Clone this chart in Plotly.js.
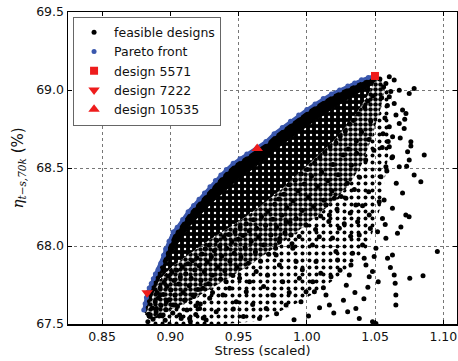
<!DOCTYPE html>
<html><head><meta charset="utf-8">
<script src="https://cdn.plot.ly/plotly-3.0.1.min.js"></script>
<style>html,body{margin:0;padding:0;background:#fff}</style>
</head><body><div id="chart" style="width:458px;height:361px"></div>
<script>
// Pareto front
var paretoX = [0.8805,0.8815,0.8825,0.8830,0.8845,0.8860,0.8875,0.8890,0.8910,0.8930,0.8950,0.8965,0.8990,0.9020,0.9050,0.9090,0.9130,0.9170,0.9210,0.9250,0.9290,0.9330,0.9370,0.9410,0.9460,0.9510,0.9560,0.9636,0.9700,0.9760,0.9820,0.9880,0.9940,1.0000,1.0060,1.0120,1.0180,1.0240,1.0300,1.0350,1.0400,1.0450,1.0490];
var paretoY = [67.59,67.63,67.67,67.70,67.73,67.76,67.79,67.82,67.85,67.89,67.94,67.98,68.03,68.09,68.12,68.17,68.22,68.26,68.30,68.34,68.38,68.42,68.455,68.49,68.53,68.56,68.59,68.63,68.67,68.72,68.76,68.80,68.84,68.875,68.91,68.945,68.975,69.00,69.025,69.045,69.065,69.08,69.09];
// lower edge of the solid black band of feasible designs just under the front (right to left)
var solidLowX = [1.0501,1.0450,1.0350,1.0200,1.0000,0.9800,0.9650,0.9470,0.9290,0.9140,0.9030,0.8950,0.8890,0.8840,0.8815];
var solidLowY = [69.060,69.020,68.970,68.890,68.770,68.640,68.530,68.410,68.270,68.130,67.990,67.860,67.740,67.630,67.570];
// lower edge of the very crowded part (left to right)
var denseLowX = [0.8820,0.8864,0.8922,0.9010,0.9142,0.9288,0.9471,0.9653,0.9836,1.0019,1.0202,1.0348,1.0443,1.0501];
var denseLowY = [67.585,67.690,67.785,67.865,67.950,68.040,68.140,68.250,68.380,68.530,68.680,68.830,68.960,69.060];
// lower edge of the crowded part (right to left)
var crowdLowX = [1.0545,1.0570,1.0540,1.0470,1.0400,1.0300,1.0150,1.0000,0.9850,0.9700,0.9550,0.9400,0.9250,0.9150,0.9050,0.8950,0.8860,0.8815];
var crowdLowY = [69.075,69.00,68.88,68.68,68.52,68.38,68.25,68.14,68.04,67.95,67.86,67.78,67.70,67.65,67.61,67.57,67.54,67.56];
// lower edge of the thinner scatter around it (left to right)
var thinLowX = [0.8815,0.8860,0.9150,0.9400,0.9650,0.9900,1.0100,1.0300,1.0450,1.0540,1.0600,1.0620,1.0545];
var thinLowY = [67.56,67.50,67.50,67.50,67.52,67.62,67.72,67.85,68.00,68.25,68.60,68.95,69.075];
// individual feasible designs, [stress, efficiency]
var feasLeft = [[0.8835,67.515],[0.8852,67.548],[0.8841,67.562],[0.8868,67.603],[0.8873,67.531],[0.8889,67.642],[0.8896,67.578],[0.8903,67.702],[0.8912,67.667],[0.8918,67.551],[0.8925,67.733],[0.8931,67.618],[0.8947,67.689],[0.8953,67.768],[0.8962,67.524],[0.8968,67.592],[0.8975,67.741],[0.8984,67.806],[0.8991,67.655],[0.9003,67.718],[0.9012,67.833],[0.9018,67.571],[0.9027,67.779],[0.9034,67.685],[0.9046,67.845],[0.9052,67.612],[0.9061,67.757],[0.9073,67.801],[0.9079,67.536],[0.9088,67.866],[0.9094,67.702],[0.9107,67.652],[0.9113,67.822],[0.9121,67.589],[0.9129,67.887],[0.9138,67.745],[0.9146,67.518],[0.9153,67.793],[0.9162,67.905],[0.9171,67.676],[0.9178,67.846],[0.9186,67.561],[0.9194,67.924],[0.9202,67.721],[0.9211,67.874],[0.9219,67.628],[0.9224,67.779],[0.9232,67.948],[0.9241,67.539],[0.9248,67.835]];
var feasMid = [[0.9256,67.982],[0.9271,67.897],[0.9279,67.758],[0.9284,68.005],[0.9301,67.931],[0.9308,67.812],[0.9322,67.969],[0.9339,68.036],[0.9347,67.866],[0.9361,67.998],[0.9368,67.787],[0.9376,67.934],[0.9391,68.058],[0.9398,67.842],[0.9413,67.985],[0.9428,68.074],[0.9436,67.902],[0.9451,68.027],[0.9458,67.811],[0.9467,67.953],[0.9473,68.092],[0.9488,67.864],[0.9496,68.043],[0.9511,68.121],[0.9518,67.929],[0.9533,68.067],[0.9548,67.988],[0.9557,68.142],[0.9571,67.889],[0.9578,68.096],[0.9593,68.031],[0.9608,68.168],[0.9623,67.962],[0.9632,68.114],[0.9646,68.058],[0.9661,67.903],[0.9668,68.187],[0.9683,68.006],[0.9698,68.132],[0.9713,68.221],[0.9721,67.947],[0.9736,68.071],[0.9751,68.172],[0.9764,68.268],[0.9771,67.986],[0.9779,68.121],[0.9794,68.302],[0.9801,68.048],[0.9816,68.197],[0.9831,68.331],[0.9839,68.085],[0.9854,68.246],[0.9869,68.392],[0.9876,68.152],[0.9891,68.014],[0.9899,68.288],[0.9914,68.421],[0.9921,68.176],[0.9936,68.352],[0.9944,68.061],[0.9959,68.463],[0.9966,68.227],[0.9981,68.398],[0.9996,68.133],[1.0004,68.491],[1.0011,68.312],[1.0034,68.447],[1.0049,68.254],[1.0056,68.532],[1.0064,68.106],[1.0079,68.381],[1.0094,68.568],[1.0101,68.192],[1.0109,68.473],[1.0124,68.294],[1.0131,68.601],[1.0154,68.419],[1.0161,68.157],[1.0169,68.637],[1.0184,68.352],[1.0191,68.522],[1.0214,68.661],[1.0221,68.236],[1.0229,68.457],[1.0244,68.704],[1.0251,68.318],[1.0266,68.583],[1.0274,68.143],[1.0281,68.736],[1.0296,68.402],[1.0304,68.622],[1.0311,68.782],[1.0318,68.211],[1.0326,68.518],[1.0341,68.804],[1.0348,68.362],[1.0363,68.673],[1.0378,68.846],[1.0386,68.441],[1.0401,68.731],[1.0408,68.258],[1.0423,68.889],[1.0431,68.552],[1.0446,68.928],[1.0453,68.347],[1.0468,68.801],[1.0483,68.962],[1.0491,68.614],[1.0365,68.594],[1.0455,68.683]];
var feasLower = [[1.0956,67.964],[1.0851,67.810],[1.0754,67.793],[1.0652,67.622],[1.0652,67.686],[1.0647,67.761],[1.0640,67.814],[1.0627,67.942],[1.0591,67.921],[1.0579,68.049],[1.0554,68.177],[1.0530,68.284],[1.0518,68.092],[1.0506,67.985],[1.0493,67.932],[1.0481,67.836],[1.0457,67.803],[1.0433,67.878],[1.0420,67.921],[1.0408,68.006],[1.0384,68.071],[1.0372,68.156],[1.0359,68.263],[1.0335,67.953],[1.0323,67.878],[1.0311,67.814],[1.0299,67.579],[1.0359,67.600],[1.0384,67.536],[1.0481,67.515],[1.0506,67.503],[1.0213,67.964],[1.0225,67.910],[1.0238,68.113],[1.0165,68.199],[1.0140,68.263],[1.0201,68.306],[1.0091,68.060],[1.0067,67.900],[1.0043,67.771],[1.0055,67.707],[1.0140,67.686],[1.0177,67.803],[1.0165,67.622],[0.9994,67.707],[0.9957,67.643],[0.9945,67.793],[0.9921,67.900],[0.9897,67.985],[0.9884,68.071],[0.9848,68.156],[0.9799,68.028],[0.9775,67.942],[0.9799,67.878],[0.9823,67.771],[0.9848,67.622],[0.9750,67.686],[0.9702,67.600],[0.9653,67.536],[0.9629,67.836],[0.9580,67.771],[0.9556,67.707],[0.9507,67.793],[0.9482,67.643],[0.9434,67.729],[0.9385,67.686],[0.9336,67.579],[0.9288,67.665],[0.9239,67.729],[0.9214,67.600],[0.9166,67.686],[0.9141,67.536],[0.9068,67.558],[0.9020,67.622],[0.8971,67.643],[0.8947,67.558],[0.8898,67.600],[0.8922,67.686],[1.0286,68.306],[1.0457,68.199],[1.0627,68.242],[1.0725,68.199],[1.0749,68.188],[1.0664,68.081],[1.0566,68.295]];
var feasExtra = [[1.0012,67.552],[1.0093,67.604],[1.0121,67.733],[1.0268,67.652],[1.0197,67.571],[0.9906,67.528],[0.9871,67.702],[0.9778,67.566],[0.9683,67.741],[0.9712,67.812],[0.9603,67.625],[0.9535,67.548],[0.9461,67.596],[0.9409,67.771],[0.9309,67.702],[0.9262,67.526],[0.9187,67.617],[0.9105,67.652],[1.0418,67.662],[1.0447,67.735],[1.0289,67.748],[1.0352,67.702],[1.0243,67.845],[1.0102,67.826],[0.9967,67.848],[1.0321,68.062],[1.0188,68.051],[1.0041,68.007],[1.0465,68.112],[1.0523,67.771],[1.0612,67.862],[1.0574,68.138],[1.0689,68.121],[1.0655,68.402],[1.0701,68.339],[1.0623,68.565],[1.0586,68.480],[1.0552,68.631],[1.0684,68.692],[1.0731,68.512],[1.0762,68.641],[1.0717,68.812]];
var feasUpperRight = [[1.0604,69.085],[1.0640,69.064],[1.0579,69.042],[1.0677,68.999],[1.0750,68.978],[1.0786,69.010],[1.0604,68.957],[1.0640,68.914],[1.0701,68.871],[1.0726,68.850],[1.0653,68.839],[1.0677,68.786],[1.0713,68.754],[1.0604,68.765],[1.0628,68.701],[1.0604,68.636],[1.0762,68.668],[1.0738,68.604],[1.0860,68.583],[1.0750,68.551],[1.0835,68.412],[1.0786,68.455],[1.0628,68.572],[1.0677,68.508],[1.0579,68.508],[1.0543,68.444],[1.0535,69.070],[1.0562,69.020],[1.0548,68.950],[1.0590,68.900],[1.0572,68.820],[1.0615,68.990],[1.0558,68.720],[1.0596,68.670]];
// highlighted designs
var d5571X = [1.0499],  d5571Y = [69.09];
var d7222X = [0.8830],  d7222Y = [67.70];
var d10535X = [0.9636], d10535Y = [68.625];

var feasAll = feasLeft.concat(feasMid, feasLower, feasExtra, feasUpperRight);
var feasX = feasAll.map(function(p){return p[0];}), feasY = feasAll.map(function(p){return p[1];});

var solidPolyX = paretoX.concat(solidLowX), solidPolyY = paretoY.concat(solidLowY);
var densePolyX = solidLowX.concat(denseLowX), densePolyY = solidLowY.concat(denseLowY);
var crowdPolyX = denseLowX.concat(crowdLowX), crowdPolyY = denseLowY.concat(crowdLowY);
var thinPolyX = crowdLowX.concat(thinLowX), thinPolyY = crowdLowY.concat(thinLowY);
var blue = '#3a57ad', red = '#ee1c1c';
function zone(px, py, fg, bg, size, sol) {
 return {x: px, y: py, type:'scatter', mode:'lines', line:{width:0, color:'rgba(0,0,0,0)'}, fill:'toself', fillcolor:bg,
  fillpattern:{shape:'.', fgcolor:fg, bgcolor:bg, size:size, solidity:sol}, showlegend:false, hoverinfo:'skip'};
}
var traces = [
 zone(thinPolyX, thinPolyY, '#000', 'rgba(255,255,255,0)', 7, 0.25),
 zone(crowdPolyX, crowdPolyY, '#000', 'rgba(255,255,255,0)', 5, 0.65),
 zone(densePolyX, densePolyY, '#fff', '#000', 6, 0.12),
 {x: solidPolyX, y: solidPolyY, type:'scatter', mode:'lines', fill:'toself', fillcolor:'#000', line:{width:1.5,color:'#000'}, showlegend:false, hoverinfo:'skip'},
 {x: feasX, y: feasY, type:'scatter', mode:'markers', name:'feasible designs', marker:{color:'#000', size:5}},
 {x: paretoX, y: paretoY, type:'scatter', mode:'lines', line:{color:blue, width:3}, showlegend:false, hoverinfo:'skip'},
 {x: paretoX, y: paretoY, type:'scatter', mode:'markers', name:'Pareto front', marker:{color:blue, size:5}},
 {x: d5571X, y: d5571Y, type:'scatter', mode:'markers', name:'design 5571', marker:{color:red, size:8, symbol:'square'}},
 {x: d7222X, y: d7222Y, type:'scatter', mode:'markers', name:'design 7222', marker:{color:red, size:10, symbol:'triangle-down'}},
 {x: d10535X, y: d10535Y, type:'scatter', mode:'markers', name:'design 10535', marker:{color:red, size:10, symbol:'triangle-up'}}
];
var axisCommon = {
 showline:true, mirror:'ticks', linecolor:'#000', linewidth:1.5,
 ticks:'inside', ticklen:4, tickcolor:'#000', tickwidth:1,
 showgrid:true, gridcolor:'#777', griddash:'3px,3px', gridwidth:1,
 zeroline:false, tickfont:{family:'DejaVu Sans', size:12.5, color:'#111'}
};
var layout = {
 width:458, height:361, margin:{l:68, r:1, t:12, b:37},
 paper_bgcolor:'#fff', plot_bgcolor:'#fff',
 font:{family:'DejaVu Sans', size:12, color:'#111'},
 xaxis: Object.assign({}, axisCommon, {range:[0.825,1.11], tick0:0.85, dtick:0.05, tickformat:'.2f',
   title:{text:'Stress (scaled)', standoff:1, font:{family:'DejaVu Sans', size:13}}}),
 yaxis: Object.assign({}, axisCommon, {range:[67.5,69.5], tick0:67.5, dtick:0.5, tickformat:'.1f',
   title:{text:'<span style="font-family:DejaVu Serif;font-style:italic">η<sub>t−s,70k</sub></span> (%)', standoff:9, font:{family:'DejaVu Sans', size:15}}}),
 legend:{x:0.013, y:0.985, xanchor:'left', yanchor:'top', bgcolor:'#fff', bordercolor:'#666', borderwidth:1,
   font:{family:'DejaVu Sans', size:12.5, color:'#111'}},
 showlegend:true
};
Plotly.newPlot('chart', traces, layout, {displayModeBar:false, staticPlot:true});
</script></body></html>
